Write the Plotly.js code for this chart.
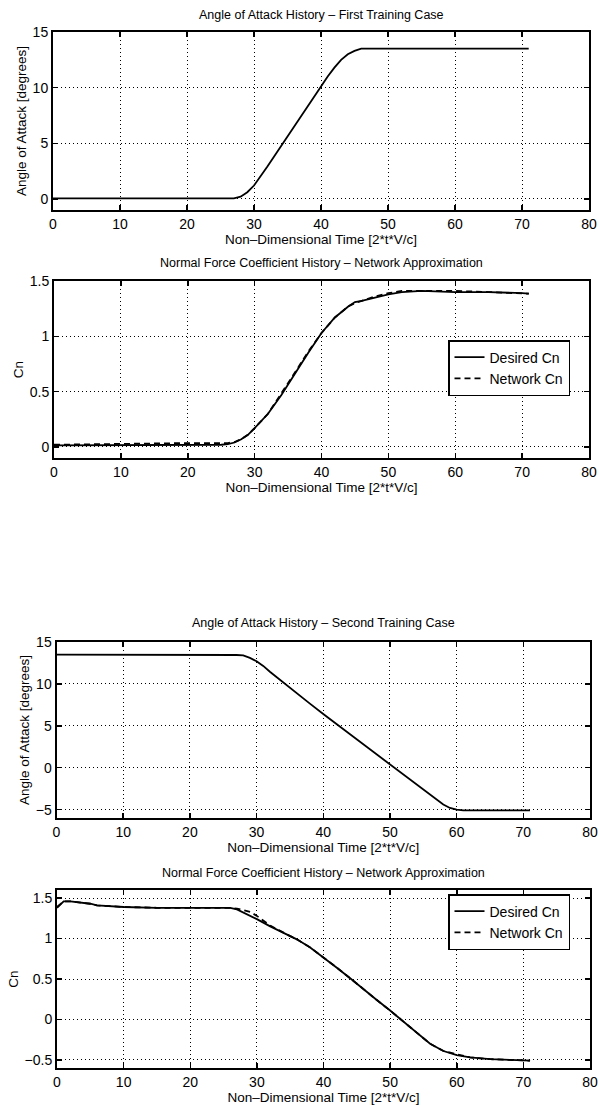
<!DOCTYPE html>
<html>
<head>
<meta charset="utf-8">
<script src="https://cdn.plot.ly/plotly-3.0.1.min.js"></script>
<style>html,body{margin:0;padding:0;background:#fff;}#chart{width:599px;height:1105px;}</style>
</head>
<body>
<div id="chart"></div>
<script>
// ---- Data ----
const titles = [
  "Angle of Attack History \u2013 First Training Case",
  "Normal Force Coefficient History \u2013 Network Approximation",
  "Angle of Attack History \u2013 Second Training Case",
  "Normal Force Coefficient History \u2013 Network Approximation"
];
const xAxisTitle = "Non\u2013Dimensional Time [2*t*V/c]";
const yTitleAlpha = "Angle of Attack [degrees]";
const yTitleCn = "Cn";
const legendNames = ["Desired Cn", "Network Cn"];

// First training case: angle of attack
const t1 = [0,5,10,15,20,25,27,28,29,30,31,32,33,34,35,36,37,38,39,40,41,42,43,44,45,46,47,50,55,60,63,65,70,71];
const alpha1 = [0.05,0.05,0,0,0,0,0.05,0.2,0.6,1.2,2.0,2.9,3.8,4.7,5.6,6.5,7.5,8.4,9.3,10.1,11.0,11.8,12.5,13.0,13.3,13.5,13.5,13.5,13.5,13.5,13.55,13.5,13.5,13.5];

// First training case: normal force coefficient
const t2 = [0,5,10,15,20,25,26,27,28,29,30,32,34,35,36,38,40,42,44,45,46,48,50,52,55,60,65,70,71];
const cnDesired1 = [0.015,0.015,0.02,0.02,0.02,0.02,0.025,0.04,0.07,0.11,0.17,0.30,0.47,0.56,0.66,0.85,1.03,1.17,1.27,1.31,1.32,1.35,1.38,1.40,1.41,1.40,1.40,1.39,1.385];
const cnNetwork1 = [0.02,0.025,0.03,0.035,0.035,0.035,0.035,0.045,0.07,0.11,0.17,0.30,0.48,0.57,0.67,0.86,1.03,1.17,1.27,1.30,1.32,1.36,1.39,1.41,1.41,1.41,1.40,1.39,1.385];

// Second training case: angle of attack
const t3 = [0,5,10,15,20,25,27,28,29,30,31,32,33,34,35,36,38,40,42,44,46,48,50,52,54,56,57,58,59,60,61,65,71];
const alpha3 = [13.5,13.5,13.45,13.45,13.45,13.45,13.45,13.4,13.1,12.7,12.15,11.45,10.8,10.2,9.55,8.9,7.65,6.4,5.2,3.9,2.7,1.5,0.3,-0.9,-2.1,-3.2,-3.8,-4.4,-4.8,-5.0,-5.1,-5.1,-5.1];

// Second training case: normal force coefficient
const t4 = [0,0.5,1,2,5,6,10,15,20,25,26,27,28,29,30,32,35,36,38,40,42,44,46,48,50,52,54,56,58,60,62,65,68,71];
const cnDesired2 = [1.38,1.42,1.46,1.46,1.43,1.41,1.39,1.38,1.38,1.38,1.38,1.36,1.32,1.28,1.24,1.15,1.03,0.99,0.89,0.77,0.64,0.51,0.37,0.24,0.11,-0.03,-0.17,-0.30,-0.39,-0.44,-0.47,-0.49,-0.50,-0.51];
const cnNetwork2 = [1.39,1.43,1.46,1.46,1.43,1.41,1.39,1.38,1.38,1.38,1.38,1.37,1.35,1.33,1.28,1.16,1.03,0.99,0.89,0.77,0.64,0.51,0.37,0.24,0.11,-0.03,-0.17,-0.30,-0.39,-0.43,-0.47,-0.49,-0.50,-0.51];

const xTicks = [0,10,20,30,40,50,60,70,80];

// ---- Layout helpers ----
const W = 599, H = 1105;
const FONT = "Arial, 'Liberation Sans', sans-serif";
function px(x){ return x / W; }
function py(y){ return 1 - y / H; }

const boxes = [
  {l:53, r:589, t:32,  b:210, yr:[-1,15],     dt:5,   ytitle:yTitleAlpha, tt:15},
  {l:54, r:589, t:281, b:458, yr:[-0.1,1.5],  dt:0.5, ytitle:yTitleCn,    tt:263},
  {l:56.5, r:590, t:642, b:818, yr:[-6,15],   dt:5,   ytitle:yTitleAlpha, tt:623},
  {l:57, r:590, t:890, b:1068, yr:[-0.6,1.6], dt:0.5, ytitle:yTitleCn,    tt:873}
];

const legendStyle = {
  xanchor: "left", yanchor: "top",
  bgcolor: "#fff", bordercolor: "#000", borderwidth: 1.5,
  font: {family: FONT, size: 14, color: "#000"},
  itemwidth: 30, tracegroupgap: 0
};

const layout = {
  width: W, height: H,
  margin: {l:0, r:0, t:0, b:0},
  paper_bgcolor: "#fff", plot_bgcolor: "#fff",
  font: {family: FONT, size: 12, color: "#000"},
  showlegend: true,
  annotations: [],
  legend: Object.assign({x: px(448), y: py(340)}, legendStyle),
  legend2: Object.assign({x: px(448), y: py(894)}, legendStyle)
};

boxes.forEach((b, i) => {
  const n = i === 0 ? "" : String(i + 1);
  layout["xaxis" + n] = {
    domain: [px(b.l), px(b.r)], anchor: "y" + n,
    range: [0, 80], tickvals: xTicks, ticktext: xTicks.map(String),
    ticks: "inside", ticklen: 5, tickwidth: 1.5, tickcolor: "#000",
    showline: true, linecolor: "#000", linewidth: 2, mirror: "ticks",
    showgrid: true, gridcolor: "#000", gridwidth: 1, griddash: "1px,3px",
    zeroline: false, fixedrange: true,
    tickfont: {family: FONT, size: 14, color: "#000"},
    title: {text: xAxisTitle, font: {family: FONT, size: 13.5, color: "#000"}, standoff: 0}
  };
  layout["yaxis" + n] = {
    domain: [py(b.b), py(b.t)], anchor: "x" + n,
    range: b.yr, dtick: b.dt, tick0: 0,
    ticks: "inside", ticklen: 5, tickwidth: 1.5, tickcolor: "#000",
    showline: true, linecolor: "#000", linewidth: 2, mirror: "ticks",
    showgrid: true, gridcolor: "#000", gridwidth: 1, griddash: "1px,3px",
    zeroline: false, fixedrange: true,
    tickfont: {family: FONT, size: 14, color: "#000"},
    title: {text: b.ytitle, font: {family: FONT, size: 13.5, color: "#000"}, standoff: 3}
  };
  layout.annotations.push({
    text: titles[i], xref: "paper", yref: "paper",
    x: px((b.l + b.r) / 2), y: py(b.tt), xanchor: "center", yanchor: "middle",
    showarrow: false, font: {family: FONT, size: 12.5, color: "#000"}
  });
});

const solid = {color: "#000", width: 1.8};
const dashed = {color: "#000", width: 1.8, dash: "6px,4px"};

const data = [
  {x: t1, y: alpha1, xaxis: "x", yaxis: "y", mode: "lines", line: solid, showlegend: false, hoverinfo: "skip"},
  {x: t2, y: cnDesired1, xaxis: "x2", yaxis: "y2", mode: "lines", line: solid, name: legendNames[0], legend: "legend"},
  {x: t2, y: cnNetwork1, xaxis: "x2", yaxis: "y2", mode: "lines", line: dashed, name: legendNames[1], legend: "legend"},
  {x: t3, y: alpha3, xaxis: "x3", yaxis: "y3", mode: "lines", line: solid, showlegend: false, hoverinfo: "skip"},
  {x: t4, y: cnDesired2, xaxis: "x4", yaxis: "y4", mode: "lines", line: solid, name: legendNames[0], legend: "legend2"},
  {x: t4, y: cnNetwork2, xaxis: "x4", yaxis: "y4", mode: "lines", line: dashed, name: legendNames[1], legend: "legend2"}
];

Plotly.newPlot("chart", data, layout, {displayModeBar: false, staticPlot: true});
</script>
</body>
</html>
